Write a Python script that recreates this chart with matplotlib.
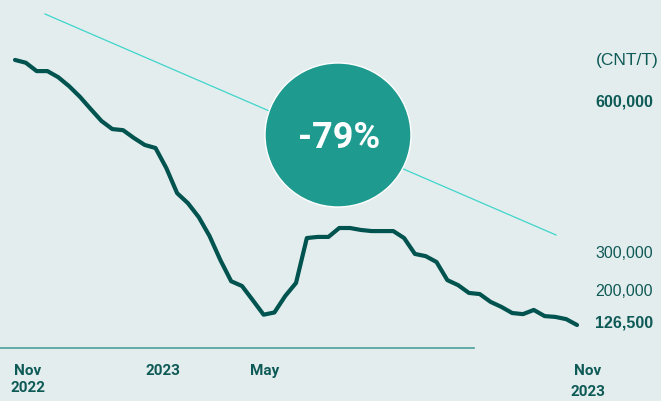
import matplotlib
matplotlib.use("Agg")
import matplotlib.pyplot as plt
import matplotlib.transforms as mtransforms
from matplotlib.patches import Ellipse

# weekly price, Nov 2022 -> Nov 2023 (CNT/T)
weeks = list(range(53))
price = [602000, 597000, 582000, 582000, 571000, 555000, 536000, 514000,
         492500, 478000, 476000, 462000, 449500, 444000, 408000, 363000,
         345000, 320000, 286000, 243000, 205000, 196500, 171000, 145000,
         149000, 178500, 202000, 282500, 284500, 284500, 300500, 300500,
         297000, 295000, 295000, 295000, 282500, 254000, 250000, 239500,
         207000, 198000, 184000, 182000, 168000, 159000, 148000, 146000,
         153500, 142500, 141000, 137000, 126500]

x_labels = ["Nov\n2022", "2023", "May", "Nov\n2023"]
x_label_pos = [1.2, 13.7, 23.1, 53.0]
x_label_spacing = [1.3, 1.3, 1.3, 1.65]

y_labels = ["600,000", "300,000", "200,000", "126,500"]
y_bold = [True, False, False, True]
y_label_pos = [0.746, 0.367, 0.274, 0.195]

change_text = "-79%"

bg = "#E4EDEE"
dark = "#00534E"
label_col = "#0E5A56"

fig = plt.figure(figsize=(6.61, 4.01), dpi=100, facecolor=bg)
ax = fig.add_axes([0, 0, 1, 1])
ax.set_facecolor(bg)
ax.set_xlim(-1.39, 59.77)
ax.set_ylim(-9844, 709550)
ax.axis("off")

# diagonal trend line (decoration)
ax.plot([45 / 661, 556 / 661], [1 - 14 / 401, 1 - 235 / 401],
        transform=ax.transAxes, color="#3FD5CB", lw=0.9, zorder=1)

# percentage bubble
circ = Ellipse((338 / 661, 1 - 135 / 401), 146 / 661, 144 / 401,
               transform=ax.transAxes, facecolor="#1E9A8F",
               edgecolor="white", lw=1.0, zorder=2)
ax.add_patch(circ)
ax.text(339 / 661, 1 - 138 / 401, change_text, transform=ax.transAxes,
        ha="center", va="center", color="white", fontsize=26,
        fontweight="bold", family="Roboto", zorder=3)

# baseline
ax.plot([0, 474 / 661], [1 - 348 / 401, 1 - 348 / 401], transform=ax.transAxes,
        color="#4A9F9A", lw=1.2, zorder=1)

# price line
ax.plot(weeks, price, color=dark, lw=3.0, solid_joinstyle="round",
        solid_capstyle="round", zorder=4)

# x labels
trans_x = mtransforms.blended_transform_factory(ax.transData, ax.transAxes)
for lab, pos, ls in zip(x_labels, x_label_pos, x_label_spacing):
    ax.text(pos, 1 - 364 / 401, lab, transform=trans_x, ha="center", va="top",
            color=label_col, fontsize=11, fontweight="bold",
            family="Roboto", linespacing=ls)

# y labels
ax.text(0.996, 1 - 60 / 401, "(CNT/T)", transform=ax.transAxes, ha="right",
        va="center", color=label_col, fontsize=12.5, family="Liberation Sans")
for lab, b, pos in zip(y_labels, y_bold, y_label_pos):
    ax.text(653 / 661, pos, lab, transform=ax.transAxes, ha="right", va="center",
            color=label_col, fontsize=11.5, family="Liberation Sans",
            fontweight="bold" if b else "normal")

fig.savefig("out.png", dpi=100, facecolor=bg)
